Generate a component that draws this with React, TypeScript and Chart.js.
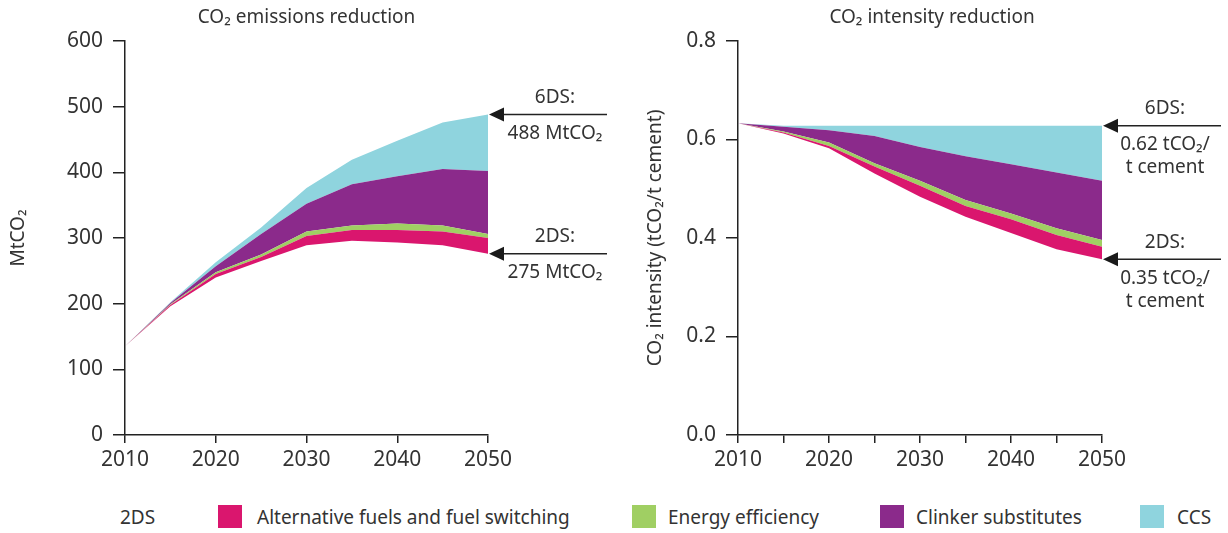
import React, { useEffect, useRef } from "react";
import { Chart, registerables } from "chart.js";
Chart.register(...registerables);

const years = [2010, 2015, 2020, 2025, 2030, 2035, 2040, 2045, 2050];

// CO2 emissions (MtCO2): upper boundary of each stacked layer
const emis2DS = [135, 196, 240, 265, 289, 296, 293, 289, 276];
const emisAltFuelsTop = [135, 198, 245, 271, 303, 312, 312, 310, 300];
const emisEfficiencyTop = [135, 199, 248, 275, 310, 319, 322, 319, 306];
const emisClinkerTop = [135, 201, 257, 306, 352, 382, 394, 405, 402];
const emisCCSTop = [135, 202, 263, 316, 376, 419, 448, 476, 488];

// CO2 intensity (tCO2/t cement)
const int2DS = [0.633, 0.612, 0.582, 0.531, 0.484, 0.443, 0.41, 0.377, 0.357];
const intAltFuelsTop = [0.633, 0.614, 0.587, 0.545, 0.506, 0.465, 0.438, 0.406, 0.382];
const intEfficiencyTop = [0.633, 0.616, 0.594, 0.552, 0.516, 0.477, 0.45, 0.42, 0.396];
const intClinkerTop = [0.633, 0.626, 0.619, 0.607, 0.585, 0.566, 0.55, 0.533, 0.516];
const intCCSTop = [0.633, 0.628, 0.628, 0.628, 0.628, 0.628, 0.628, 0.628, 0.628];

const layerNames = ["Alternative fuels and fuel switching", "Energy efficiency", "Clinker substitutes", "CCS"];
const layerColors = ["#DA166E", "#A0CF63", "#8B2A8B", "#8FD4DE"];
const legendLead = "2DS";

const emisTitle = "CO₂ emissions reduction";
const emisAxisTitle = "MtCO₂";
const emis6DSLabel = ["6DS:", "488 MtCO₂"];
const emis2DSLabel = ["2DS:", "275 MtCO₂"];

const intTitle = "CO₂ intensity reduction";
const intAxisTitle = "CO₂ intensity (tCO₂/t cement)";
const int6DSLabel = ["6DS:", "0.62 tCO₂/", "t cement"];
const int2DSLabel = ["2DS:", "0.35 tCO₂/", "t cement"];

const FONT = '"Noto Sans", "Open Sans", sans-serif';
const TEXT = "#333333";
const AXIS = "#222222";

const pts = (vals: number[]) => vals.map((v, i) => ({ x: years[i], y: v }));

function buildDatasets(base: number[], tops: number[][]) {
  const ds: any[] = [
    { data: pts(base), borderWidth: 0, pointRadius: 0, fill: false, borderColor: "rgba(0,0,0,0)" },
  ];
  tops.forEach((t, i) => {
    ds.push({
      data: pts(t),
      borderWidth: 0,
      pointRadius: 0,
      fill: "-1",
      backgroundColor: layerColors[i],
      borderColor: layerColors[i],
    });
  });
  return ds;
}

const annotPlugin = {
  id: "annot",
  afterDraw(chart: any, _args: any, opts: any) {
    const ctx = chart.ctx;
    const area = chart.chartArea;
    const y = chart.scales.y;
    ctx.save();
    // title
    ctx.fillStyle = TEXT;
    ctx.font = `19px ${FONT}`;
    ctx.textAlign = "center";
    ctx.textBaseline = "middle";
    ctx.fillText(opts.title, (area.left + area.right) / 2 + (opts.titleShift || 0), 18);
    // arrows
    (opts.items || []).forEach((it: any) => {
      const py = y.getPixelForValue(it.value);
      const x0 = area.right + 1;
      ctx.strokeStyle = AXIS;
      ctx.lineWidth = 1.5;
      ctx.beginPath();
      ctx.moveTo(x0 + 12, py);
      ctx.lineTo(x0 + opts.lineLen, py);
      ctx.stroke();
      ctx.fillStyle = "#1a1a1a";
      ctx.beginPath();
      ctx.moveTo(x0, py);
      ctx.lineTo(x0 + 15, py - 7);
      ctx.lineTo(x0 + 15, py + 7);
      ctx.closePath();
      ctx.fill();
      ctx.fillStyle = TEXT;
      ctx.font = `19px ${FONT}`;
      const cx = area.right + opts.textShift;
      it.lines.forEach((line: string, k: number) => {
        const dy = k === 0 ? -17 : k === 1 ? 19 : 42;
        ctx.fillText(line, cx, py + dy);
      });
    });
    ctx.restore();
  },
};

function makeConfig(kind: "emis" | "int"): any {
  const isE = kind === "emis";
  const datasets = isE
    ? buildDatasets(emis2DS, [emisAltFuelsTop, emisEfficiencyTop, emisClinkerTop, emisCCSTop])
    : buildDatasets(int2DS, [intAltFuelsTop, intEfficiencyTop, intClinkerTop, intCCSTop]);
  const last = years.length - 1;
  return {
    type: "line",
    data: { datasets },
    plugins: [annotPlugin],
    options: {
      responsive: false,
      animation: false,
      events: [],
      layout: { padding: { top: 41, right: isE ? 127 : 126, left: 0, bottom: 0 } },
      plugins: {
        legend: { display: false },
        tooltip: { enabled: false },
        annot: {
          title: isE ? emisTitle : intTitle,
          titleShift: isE ? 0 : 12,
          lineLen: 118,
          textShift: isE ? 67 : 63,
          items: isE
            ? [
                { value: emisCCSTop[last], lines: emis6DSLabel },
                { value: emis2DS[last], lines: emis2DSLabel },
              ]
            : [
                { value: intCCSTop[last], lines: int6DSLabel },
                { value: int2DS[last], lines: int2DSLabel },
              ],
        },
      },
      elements: { line: { tension: 0 } },
      scales: {
        x: {
          type: "linear",
          min: 2010,
          max: 2050,
          afterFit: (s: any) => {
            s.height = 40;
          },
          ticks: {
            stepSize: isE ? 10 : 5,
            padding: 4,
            color: TEXT,
            font: { family: FONT, size: 21 },
            maxRotation: 0,
            autoSkip: false,
            callback: (v: number) => (v % 10 === 0 ? String(v) : ""),
          },
          grid: { drawOnChartArea: false, drawTicks: true, tickLength: 8, color: AXIS, lineWidth: 1.5 },
          border: { display: true, color: AXIS, width: 1.5 },
        },
        y: {
          min: 0,
          max: isE ? 600 : 0.8,
          afterFit: (s: any) => {
            s.width = isE ? 125 : 123;
          },
          ticks: {
            stepSize: isE ? 100 : 0.2,
            padding: 10,
            color: TEXT,
            font: { family: FONT, size: 21 },
            callback: (v: number) => (isE ? String(v) : v.toFixed(1)),
          },
          grid: { drawOnChartArea: false, drawTicks: true, tickLength: 12, color: AXIS, lineWidth: 1.5 },
          border: { display: true, color: AXIS, width: 1.5 },
          title: {
            display: true,
            text: isE ? emisAxisTitle : intAxisTitle,
            color: TEXT,
            font: { family: FONT, size: 19 },
            padding: { top: isE ? 7 : 29, bottom: 0 },
          },
        },
      },
    },
  };
}

function ChartBox({ kind, left, width }: { kind: "emis" | "int"; left: number; width: number }) {
  const ref = useRef<HTMLCanvasElement>(null);
  useEffect(() => {
    const chart = new Chart(ref.current as HTMLCanvasElement, makeConfig(kind));
    return () => chart.destroy();
  }, [kind]);
  return (
    <div style={{ position: "absolute", left, top: 0, width, height: 475 }}>
      <canvas ref={ref} width={width} height={475} style={{ display: "block" }} />
    </div>
  );
}

const legendPos = [
  { box: 218, text: 257 },
  { box: 632, text: 668 },
  { box: 880, text: 916 },
  { box: 1140, text: 1177 },
];

export default function App() {
  useEffect(() => {
    document.body.style.margin = "0";
  }, []);
  return (
    <div style={{ position: "relative", width: 1228, height: 533, background: "#fff", fontFamily: FONT, color: TEXT }}>
      <ChartBox kind="emis" left={0} width={615} />
      <ChartBox kind="int" left={615} width={613} />
      <div style={{ position: "absolute", left: 120, top: 504, fontSize: 19, lineHeight: "26px" }}>{legendLead}</div>
      {layerNames.map((n, i) => (
        <React.Fragment key={n}>
          <div
            style={{
              position: "absolute",
              left: legendPos[i].box,
              top: 505,
              width: 24,
              height: 23,
              background: layerColors[i],
            }}
          />
          <div style={{ position: "absolute", left: legendPos[i].text, top: 504, fontSize: 19, lineHeight: "26px", whiteSpace: "nowrap" }}>
            {n}
          </div>
        </React.Fragment>
      ))}
    </div>
  );
}
